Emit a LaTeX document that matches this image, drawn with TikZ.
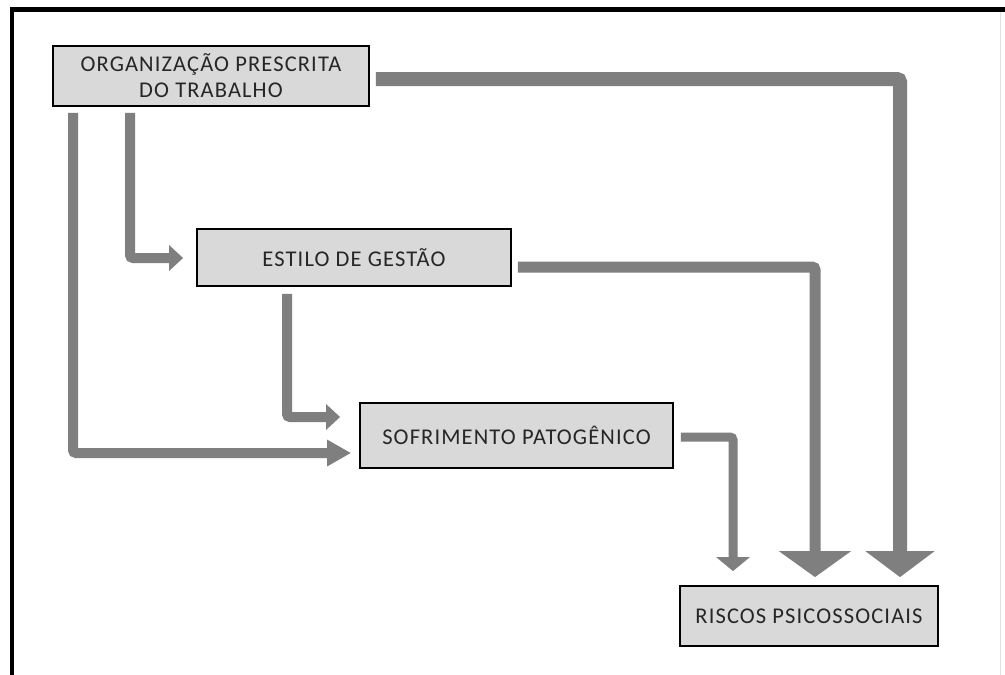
\documentclass[tikz,border=0pt]{standalone}
\usepackage{fontspec}
\setmainfont{Carlito}
\newfontfamily\boxfont{Carlito}[LetterSpace=5]
\usetikzlibrary{arrows.meta}
\definecolor{arrgray}{HTML}{7F7F7F}
\definecolor{boxfill}{HTML}{D9D9D9}
\definecolor{txt}{HTML}{262626}
\begin{document}
\begin{tikzpicture}[x=1pt,y=-1pt,
  box/.style={draw=black,line width=1.8pt,fill=boxfill,inner sep=0pt,align=center,
    text=txt,font=\boxfont\fontsize{22.5}{26}\selectfont},
  conn/.style={draw=arrgray,line width=#1,rounded corners=3pt},
]
\useasboundingbox (0,0) rectangle (1005,675);
\fill[white] (0,0) rectangle (1005,675);
% frame
\draw[line width=4.5pt,black] (12,675) -- (12,9.5) -- (1005,9.5);
\draw[line width=0.8pt,black!12] (1000,12) -- (1000,675);
% boxes
\node[box,minimum width=316pt,minimum height=60pt] (b1) at (211,76) {ORGANIZAÇÃO PRESCRITA\\DO TRABALHO};
\node[box,minimum width=314pt,minimum height=57pt] (b2) at (354,257.5) {ESTILO DE GESTÃO};
\node[box,minimum width=313pt,minimum height=65pt] (b3) at (516.5,435.5) {SOFRIMENTO PATOGÊNICO};
\node[box,minimum width=258pt,minimum height=60pt] (b4) at (809,616) {RISCOS PSICOSSOCIAIS};
% bend columns
\coordinate (k1) at (900,0);
\coordinate (k2) at (815,0);
\coordinate (k3) at (733,0);
\coordinate (k4) at (130,0);
\coordinate (k5) at (73,0);
\coordinate (k6) at (287,0);
% connectors
\draw[conn=14pt,-{Triangle[width=68pt,length=26pt]}]
  ([xshift=6pt,yshift=-3pt]b1.east) -| ([yshift=8pt]b4.north -| k1);
\draw[conn=11pt,-{Triangle[width=71pt,length=26pt]}]
  ([xshift=6pt,yshift=-9.5pt]b2.east) -| ([yshift=8pt]b4.north -| k2);
\draw[conn=9pt,-{Triangle[width=33pt,length=14pt]}]
  ([xshift=7pt,yshift=-1.5pt]b3.east) -| ([yshift=14pt]b4.north -| k3);
\draw[conn=10pt,-{Triangle[width=25pt,length=14pt]}]
  ([yshift=-6pt]b1.south -| k4) |- ([xshift=-13pt,yshift=-0.5pt]b2.west);
\draw[conn=10pt,-{Triangle[width=25pt,length=24pt]}]
  ([yshift=-6pt]b1.south -| k5) |- ([xshift=-8pt,yshift=-17.5pt]b3.west);
\draw[conn=10pt,-{Triangle[width=25pt,length=14pt]}]
  ([yshift=-7pt]b2.south -| k6) |- ([xshift=-19pt,yshift=18.5pt]b3.west);
\end{tikzpicture}
\end{document}
